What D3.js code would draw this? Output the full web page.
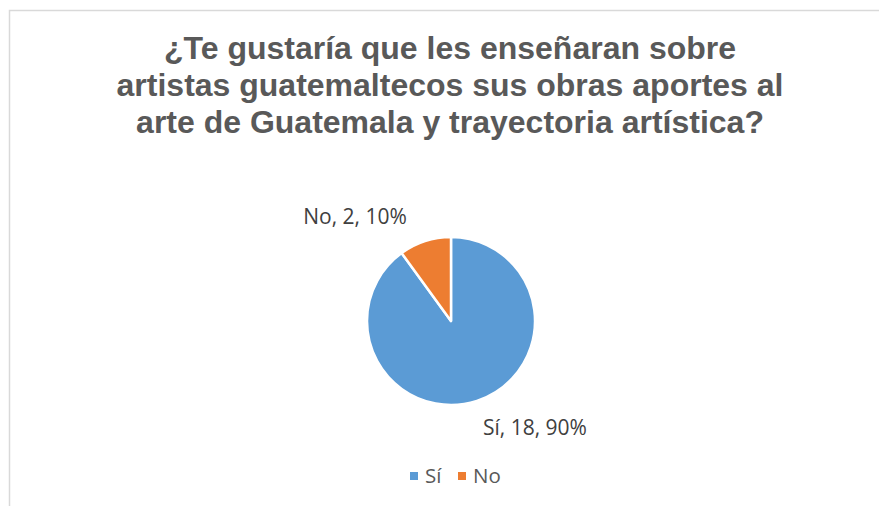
<!DOCTYPE html>
<html>
<head>
<meta charset="utf-8">
<script src="https://cdn.jsdelivr.net/npm/d3@7"></script>
<style>
  body { margin: 0; background: #fff; }
  svg { display: block; }
</style>
</head>
<body>
<div id="chart-container"></div>
<script>
var categories = ["Sí", "No"];
var counts = [18, 2];
var percents = ["90%", "10%"];
var colors = ["#5b9bd5", "#ed7d31"];
var titleLines = [
    "¿Te gustaría que les enseñaran sobre",
    "artistas guatemaltecos sus obras aportes al",
    "arte de Guatemala y trayectoria artística?"
];

var W = 879, H = 506;
var svg = d3.select("#chart-container")
    .append("svg")
    .attr("width", W)
    .attr("height", H);

// chart area border (only top and left visible)
svg.append("rect")
    .attr("x", 9.5)
    .attr("y", 10.5)
    .attr("width", 900)
    .attr("height", 600)
    .attr("fill", "none")
    .attr("stroke", "#d9d9d9")
    .attr("stroke-width", 1.5);

// title
svg.append("text")
    .attr("text-anchor", "middle")
    .style("font-family", "'Liberation Sans', Arial, sans-serif")
    .style("font-weight", "bold")
    .style("font-size", "32px")
    .attr("fill", "#595959")
    .selectAll("tspan")
    .data(titleLines)
    .enter().append("tspan")
    .attr("x", 450)
    .attr("y", function(d, i) { return 59 + i * 37; })
    .text(function(d) { return d; });

var data = categories.map(function(c, i) {
    return {name: c, value: counts[i], pct: percents[i], color: colors[i]};
});

var cx = 451, cy = 321, r = 84;
var pie = d3.pie().sort(null).value(function(d) { return d.value; });
var arc = d3.arc().innerRadius(0).outerRadius(r);
var arcs = pie(data);

var g = svg.append("g").attr("transform", "translate(" + cx + "," + cy + ")");
g.selectAll("path")
    .data(arcs)
    .enter().append("path")
    .attr("d", arc)
    .attr("fill", function(d) { return d.data.color; })
    .attr("stroke", "#fff")
    .attr("stroke-width", 2.5)
    .attr("stroke-linejoin", "round");

// data labels outside the pie
var labelArc = d3.arc().innerRadius(110).outerRadius(110);
var labelOffsets = [[50, 2], [-62, 0]];
g.selectAll("text.lbl")
    .data(arcs)
    .enter().append("text")
    .attr("class", "lbl")
    .attr("text-anchor", "middle")
    .attr("transform", function(d, i) {
        var p = labelArc.centroid(d);
        return "translate(" + (p[0] + labelOffsets[i][0]) + "," + (p[1] + labelOffsets[i][1]) + ")";
    })
    .attr("dy", "0.35em")
    .style("font-family", "'Open Sans', sans-serif")
    .style("font-size", "21px")
    .attr("fill", "#404040")
    .text(function(d) { return d.data.name + ", " + d.data.value + ", " + d.data.pct; });

// legend
var legend = svg.append("g").attr("transform", "translate(410,476)");
var lx = [0, 48];
var item = legend.selectAll("g")
    .data(data)
    .enter().append("g")
    .attr("transform", function(d, i) { return "translate(" + lx[i] + ",0)"; });
item.append("rect")
    .attr("x", 0).attr("y", -4)
    .attr("width", 8).attr("height", 8)
    .attr("fill", function(d) { return d.color; });
item.append("text")
    .attr("x", 15)
    .attr("dy", "0.35em")
    .style("font-family", "'Open Sans', sans-serif")
    .style("font-size", "20.5px")
    .attr("fill", "#595959")
    .text(function(d) { return d.name; });
</script>
</body>
</html>
